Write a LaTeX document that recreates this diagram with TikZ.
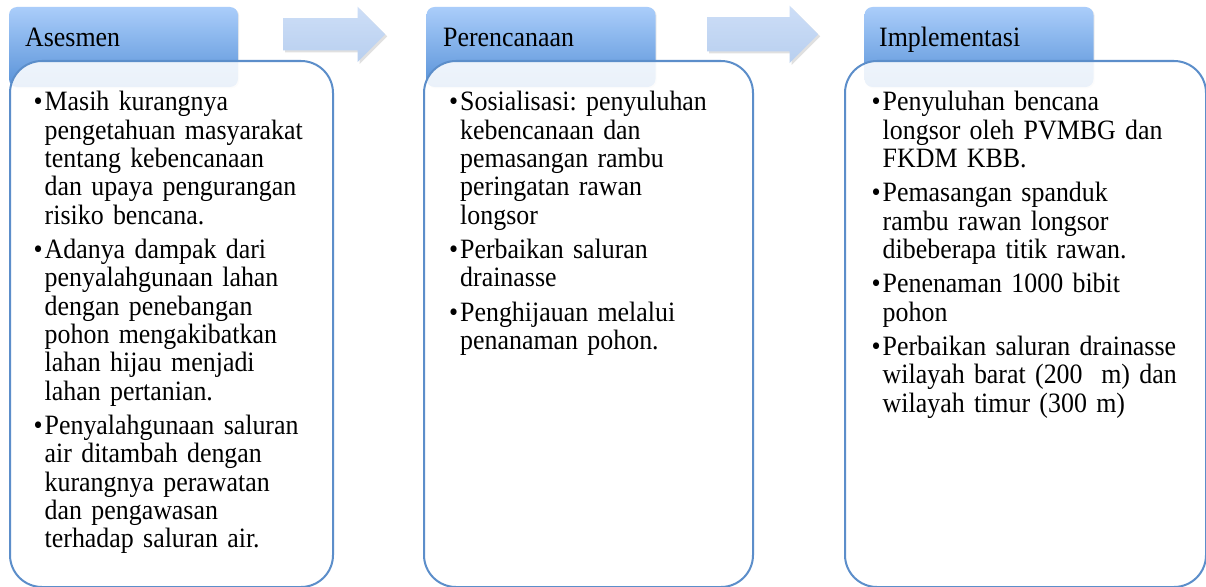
\documentclass[tikz,border=0pt]{standalone}
\usepackage{fontspec}
\setmainfont{Liberation Serif}[FakeStretch=0.925]
\usetikzlibrary{shapes.arrows,shadows}
\definecolor{tabtop}{RGB}{170,205,250}
\definecolor{tabbot}{RGB}{88,146,216}
\definecolor{boxline}{RGB}{92,142,202}
\definecolor{arrtop}{RGB}{205,222,247}
\definecolor{arrbot}{RGB}{184,207,239}
\newcommand{\bul}{\makebox[11pt][l]{•}}
\newcommand{\ind}{\hspace*{11pt}}
\frenchspacing
\tikzset{
  tabbox/.style={rounded corners=8pt, minimum width=229pt, minimum height=80pt,
    top color=tabtop, bottom color=tabbot, draw=none, inner sep=0pt,
    drop shadow={shadow xshift=1.2pt, shadow yshift=-1.2pt, opacity=0.08, fill=black}},
  bodybox/.style={rounded corners=32pt, draw=boxline, line width=2pt,
    fill=white, fill opacity=0.88, anchor=north west, inner sep=0pt,
    minimum height=526pt},
  flowarrow/.style={single arrow, single arrow head extend=11.5pt, draw=none,
    top color=arrtop, bottom color=arrbot, inner sep=0pt, minimum width=55pt,
    anchor=tail,
    drop shadow={shadow xshift=2pt, shadow yshift=-2pt, opacity=0.12, fill=black}},
  hdr/.style={anchor=base west, inner sep=0pt, font=\fontsize{28pt}{28.35pt}\selectfont\frenchspacing},
  bodytext/.style={anchor=base west, inner sep=0pt, text width=340pt, align=left,
    font=\fontsize{28pt}{28.35pt}\selectfont\frenchspacing}
}
\begin{document}
\begin{tikzpicture}[x=1pt,y=-1pt]
\useasboundingbox (0,0) rectangle (1206,586);
\fill[white] (0,0) rectangle (1206,586);
% arrows
\node[flowarrow, minimum height=102pt, inner ysep=16pt] (a1) at (283,34.3) {};
\node[flowarrow, minimum height=111pt, inner ysep=17pt] (a2) at (707,34.3) {};
% tabs
\node[tabbox] (tab1) at (123.5,47) {};
\node[tabbox] (tab2) at (541,47) {};
\node[tabbox] (tab3) at (979,47) {};
% boxes
\node[bodybox, minimum width=323pt] (box1) at (9,60) {};
\node[bodybox, minimum width=329pt] (box2) at (423,60) {};
\node[bodybox, minimum width=361pt] (box3) at (844,60) {};
% headers
\node[hdr] (h1) at (25,47) {Asesmen};
\node[hdr] (h2) at (443,47) {Perencanaan};
\node[hdr] (h3) at (879,47) {Implementasi};
% body texts
\node[bodytext] (t1) at (33.5,110.7) {\bul Masih kurangnya\\
\ind pengetahuan masyarakat\\
\ind tentang kebencanaan\\
\ind dan upaya pengurangan\\
\ind risiko bencana.\\[6pt]
\bul Adanya dampak dari\\
\ind penyalahgunaan lahan\\
\ind dengan penebangan\\
\ind pohon mengakibatkan\\
\ind lahan hijau menjadi\\
\ind lahan pertanian.\\[6pt]
\bul Penyalahgunaan saluran\\
\ind air ditambah dengan\\
\ind kurangnya perawatan\\
\ind dan pengawasan\\
\ind terhadap saluran air.};
\node[bodytext] (t2) at (449,110.7) {\bul Sosialisasi: penyuluhan\\
\ind kebencanaan dan\\
\ind pemasangan rambu\\
\ind peringatan rawan\\
\ind longsor\\[6pt]
\bul Perbaikan saluran\\
\ind drainasse\\[6pt]
\bul Penghijauan melalui\\
\ind penanaman pohon.};
\node[bodytext] (t3) at (871.5,110.7) {\bul Penyuluhan bencana\\
\ind longsor oleh PVMBG dan\\
\ind FKDM KBB.\\[6pt]
\bul Pemasangan spanduk\\
\ind rambu rawan longsor\\
\ind dibeberapa titik rawan.\\[6pt]
\bul Penenaman 1000 bibit\\
\ind pohon\\[6pt]
\bul Perbaikan saluran drainasse\\
\ind wilayah barat (200~ m) dan\\
\ind wilayah timur (300 m)};
\end{tikzpicture}
\end{document}
